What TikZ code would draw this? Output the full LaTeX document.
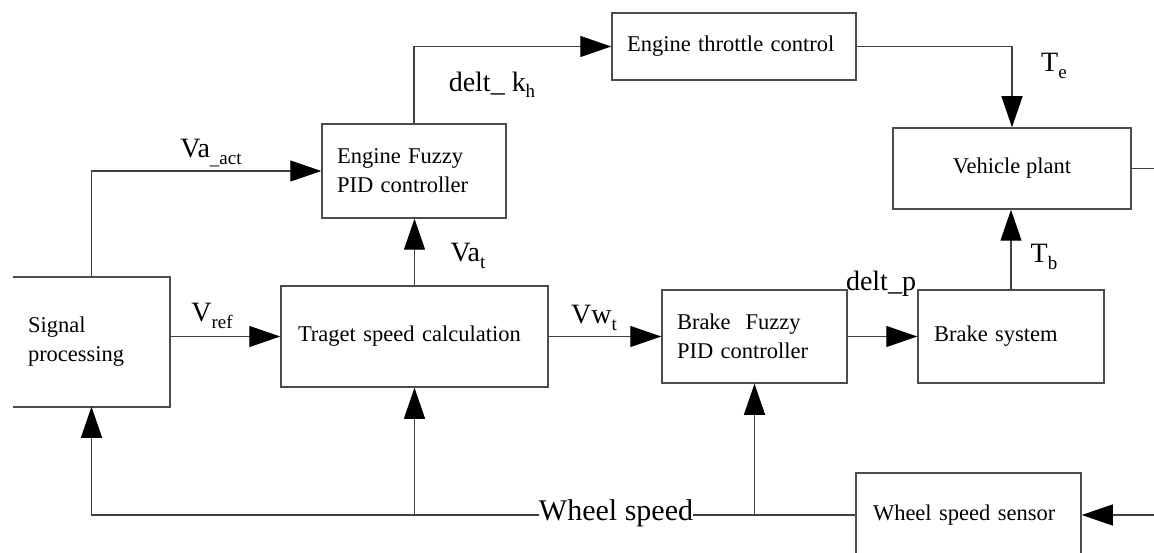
\documentclass[tikz,border=0pt]{standalone}
\usepackage{fontspec}
\setmainfont{Liberation Serif}
\usetikzlibrary{arrows.meta}
\newcommand{\sbx}[1]{\raisebox{-0.22em}{\fontsize{19}{19}\selectfont #1}}
\begin{document}
\begin{tikzpicture}[x=1pt,y=-1pt,
  box/.style={draw=black!70, line width=1.5pt, inner sep=0pt, font=\fontsize{22.5}{29}\selectfont},
  lbox/.style={box, align=left, text width=#1},
  conn/.style={draw=black!75, line width=1.3pt},
  arr/.style={conn, -{Triangle[length=31pt,width=21pt,color=black,fill=black]}},
  lab/.style={inner sep=0pt, font=\fontsize{28}{28}\selectfont}]
\useasboundingbox (0,0) rectangle (1154,553);
\clip (0,0) rectangle (1154,553);

% boxes
\node[lbox=127pt, draw=none, minimum width=155pt, minimum height=128pt] (sig) at (91.5,342) {Signal\\processing};
\draw[box] (sig.north west) -- (sig.north east) -- (sig.south east) -- (sig.south west);
\node[lbox=154pt, minimum width=184pt, minimum height=94pt] (efz) at (414,171) {Engine Fuzzy\\PID controller};
\node[lbox=214pt, minimum width=244pt, minimum height=67pt] (etc) at (734,46.5) {Engine throttle control};
\node[box, minimum width=238pt, minimum height=81pt] (vp) at (1012,168.5) {Vehicle plant};
\node[lbox=233pt, minimum width=267pt, minimum height=101pt] (tsc) at (414.5,336.5) {Traget speed calculation};
\node[lbox=155pt, minimum width=185pt, minimum height=93pt] (bfz) at (754.5,336.5) {Brake~ Fuzzy\\PID controller};
\node[lbox=154pt, minimum width=186pt, minimum height=93pt] (bs) at (1011,336.5) {Brake system};
\node[lbox=191pt, minimum width=225pt, minimum height=84pt] (sens) at (968.5,515) {Wheel speed sensor};

% free ends
\coordinate (out) at (1160,168.5);
\coordinate (in) at (1160,515);

% connectors
\draw[arr] (sig.north) |- (efz.west);
\draw[arr] (efz.north) |- (etc.west);
\draw[arr] (etc.east) -| (vp.north);
\draw[conn] (vp.east) -- (out);
\draw[arr] (tsc.north) -- (tsc.north |- efz.south);
\draw[arr] (sig.east |- tsc.west) -- (tsc.west);
\draw[arr] (tsc.east) -- (bfz.west);
\draw[arr] (bfz.east) -- (bs.west);
\draw[arr] (bs.north) -- (bs.north |- vp.south);
\draw[arr] (in) -- (sens.east);
\draw[arr] (sens.west) -- (sig.south |- sens.west) -- (sig.south);
\draw[arr] (tsc.south |- sens.west) -- (tsc.south);
\draw[arr] (bfz.south |- sens.west) -- (bfz.south);

% labels
\node[fill=white, inner xsep=0pt, inner ysep=2pt, font=\fontsize{30}{30}\selectfont] (ws) at (616,513) {Wheel speed};
\node[lab] (lvaact) at (211,153) {Va\sbx{\_act}};
\node[lab] (ldk) at (492,85) {delt\_ k\sbx{h}};
\node[lab] (lte) at (1054,66) {T\sbx{e}};
\node[lab] (lvat) at (468,256) {Va\sbx{t}};
\node[lab] (lvref) at (212,316) {V\sbx{ref}};
\node[lab] (lvwt) at (594,318) {Vw\sbx{t}};
\node[lab] (ldp) at (881,284) {delt\_p};
\node[lab] (ltb) at (1044,257) {T\sbx{b}};
\end{tikzpicture}
\end{document}
